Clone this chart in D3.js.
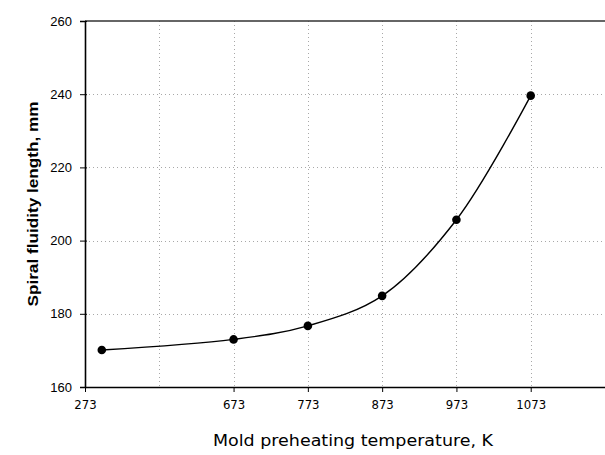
<!DOCTYPE html>
<html>
<head>
<meta charset="utf-8">
<script src="https://cdn.jsdelivr.net/npm/d3@7"></script>
<style>
  html, body { margin: 0; padding: 0; background: #fff; }
  svg { display: block; }
</style>
</head>
<body>
<svg id="chart" width="605" height="455"></svg>
<script>
// ---- data ----
const temperatures = [273, 673, 773, 873, 973, 1073];           // K
const spiralLength = [170.1, 173.0, 176.7, 184.9, 205.7, 239.6]; // mm
const yTickValues = [160, 180, 200, 220, 240, 260];
const xTickLabels = ["273", "673", "773", "873", "973", "1073"];
const xGridValues = [673, 773, 873, 973, 1073, 1173];
const xTitle = "Mold preheating temperature, K";
const yTitle = "Spiral fluidity length, mm";

(function () {
// ---- layout ----
const svg = d3.select("#chart");
const mLeft = 85, mRight = 605, mTop = 21, mBottom = 387;
const step = (mRight - mLeft) / 7;

// the reference axis is not uniform below 673 K (broken axis)
const x = d3.scaleLinear()
  .domain([222, 673, 1173])
  .range([mLeft, mLeft + 2 * step, mRight]);
const y = d3.scaleLinear().domain([160, 260]).range([mBottom, mTop]);

const xTickPositions = [x.domain()[0], 673, 773, 873, 973, 1073];
const midGrid = (x.domain()[0] + 673) / 2;

// ---- gridlines ----
const grid = svg.append("g").attr("stroke", "#a8a8a8").attr("stroke-width", 1)
  .attr("stroke-dasharray", "1,3");
grid.selectAll("line.v").data([midGrid, ...xGridValues]).join("line")
  .attr("x1", d => Math.round(x(d)) + 0.5).attr("x2", d => Math.round(x(d)) + 0.5)
  .attr("y1", mTop).attr("y2", mBottom);
grid.selectAll("line.h").data(yTickValues.filter(v => v > 160 && v < 260)).join("line")
  .attr("x1", mLeft).attr("x2", mRight)
  .attr("y1", d => Math.round(y(d)) + 0.5).attr("y2", d => Math.round(y(d)) + 0.5);

// ---- frame ----
svg.append("line").attr("x1", mLeft).attr("x2", mRight).attr("y1", mTop).attr("y2", mTop)
  .attr("stroke", "#333").attr("stroke-width", 1.6);

// ---- axes ----
const yAxis = d3.axisLeft(y).tickValues(yTickValues).tickSize(5).tickPadding(8)
  .tickFormat(d3.format("d"));
const gy = svg.append("g").attr("transform", `translate(${mLeft},0)`).call(yAxis);
gy.select(".domain").attr("stroke", "#000").attr("stroke-width", 1.6);
gy.selectAll(".tick line").attr("stroke", "#000").attr("x2", -5).attr("x1", 2);
gy.selectAll(".tick text").attr("font-family", "Arial, 'Liberation Sans', sans-serif")
  .attr("font-size", 13).attr("fill", "#000");

const xAxis = d3.axisBottom(x).tickValues(xTickPositions).tickSize(5).tickPadding(8)
  .tickSizeOuter(0)
  .tickFormat((d, i) => xTickLabels[i]);
const gx = svg.append("g").attr("transform", `translate(0,${mBottom})`).call(xAxis);
gx.select(".domain").attr("stroke", "#000").attr("stroke-width", 1.6);
gx.selectAll(".tick line").attr("stroke", "#000");
gx.selectAll(".tick text").attr("font-family", "Tahoma, 'DejaVu Sans Condensed', 'DejaVu Sans', sans-serif")
  .attr("font-size", 13).attr("fill", "#000");

// ---- line + markers ----
const pts = temperatures.map((t, i) => [x(t), y(spiralLength[i])]);
svg.append("path")
  .attr("d", d3.line().curve(d3.curveCatmullRom.alpha(0.5))(pts))
  .attr("fill", "none").attr("stroke", "#000").attr("stroke-width", 1.4);
svg.append("g").selectAll("circle").data(pts).join("circle")
  .attr("cx", d => d[0]).attr("cy", d => d[1]).attr("r", 4.3).attr("fill", "#000");

// ---- titles ----
svg.append("text").attr("x", 353).attr("y", 446).attr("text-anchor", "middle")
  .attr("font-family", "Tahoma, 'DejaVu Sans Condensed', 'DejaVu Sans', sans-serif")
  .attr("font-size", 16.5).attr("fill", "#000")
  .attr("textLength", 280).attr("lengthAdjust", "spacingAndGlyphs")
  .text(xTitle);
svg.append("text").attr("transform", "translate(38,204) rotate(-90)")
  .attr("text-anchor", "middle")
  .attr("font-family", "Arial, 'Liberation Sans', sans-serif")
  .attr("font-weight", "bold").attr("font-size", 14.5).attr("fill", "#000")
  .attr("textLength", 205).attr("lengthAdjust", "spacingAndGlyphs")
  .text(yTitle);
})();
</script>
</body>
</html>
